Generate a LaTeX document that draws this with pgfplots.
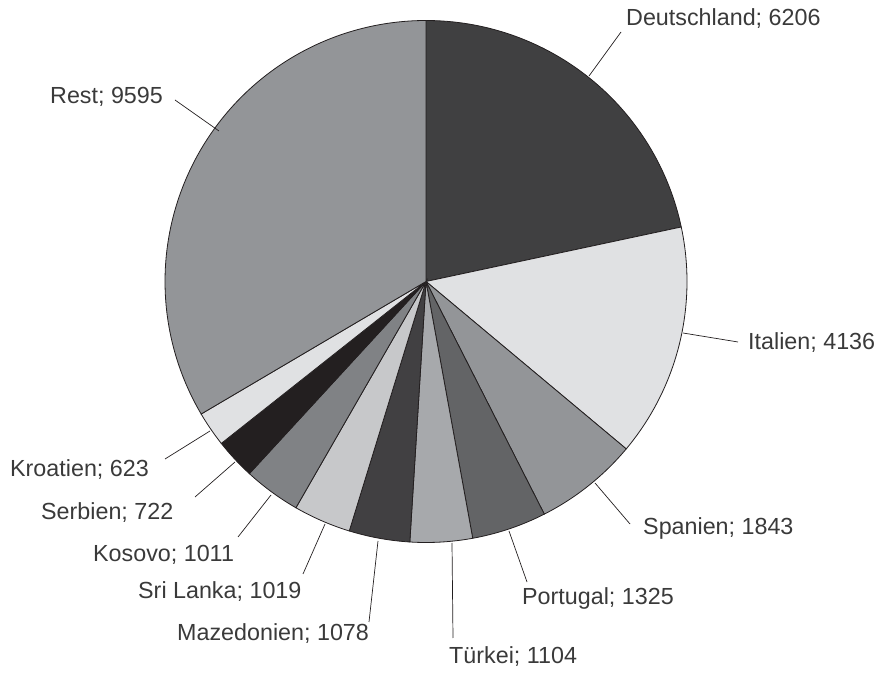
\documentclass[border=0pt]{standalone}
\usepackage{pgfplots}
\pgfplotsset{compat=1.18}
\usepackage{fontspec}
\setmainfont{Liberation Sans}
\definecolor{cD}{HTML}{404041}
\definecolor{cI}{HTML}{E0E1E3}
\definecolor{cS}{HTML}{939598}
\definecolor{cP}{HTML}{636466}
\definecolor{cT}{HTML}{A7A9AC}
\definecolor{cM}{HTML}{414042}
\definecolor{cSL}{HTML}{C7C8CA}
\definecolor{cK}{HTML}{808285}
\definecolor{cSe}{HTML}{231F20}
\definecolor{cKr}{HTML}{E0E1E3}
\definecolor{cR}{HTML}{939598}
\definecolor{linec}{HTML}{231F20}
\definecolor{txt}{HTML}{3A3A3A}
\gdef\cum{0}
% total in hundreds: (6206+4136+1843+1325+1104+1078+1019+1011+722+623+9595)/100
\pgfmathsetmacro\total{6206/100+4136/100+1843/100+1325/100+1104/100+1078/100+1019/100+1011/100+722/100+623/100+9595/100}
\newcommand\pieslice[2]{%
  \pgfmathsetmacro\angA{90-(\cum/\total)*360}%
  \pgfmathsetmacro\cumB{\cum+#1/100}%
  \pgfmathsetmacro\angB{90-(\cumB/\total)*360}%
  \xdef\cum{\cumB}%
  \edef\temp{\noexpand\addplot[fill=#2, draw=linec, line width=0.8bp, domain=\angB:\angA, samples=120] ({426+261*cos(x)},{391.5+261*sin(x)}) -- (axis cs:426,391.5) -- cycle;}%
  \temp
}
\newcommand\lbl[3]{\node[anchor=base west, inner sep=0pt, text=txt, font=\fontsize{23.3bp}{28bp}\selectfont] at (axis cs:#1,673-#2) {#3};}
\newcommand\lead[4]{\draw[linec, line width=0.7bp] (axis cs:#1,673-#2) -- (axis cs:#3,673-#4);}
\begin{document}
\begin{tikzpicture}
\begin{axis}[
  width=883bp, height=673bp, scale only axis,
  xmin=0, xmax=883, ymin=0, ymax=673,
  hide axis, clip=false,
]
\path (axis cs:0,0) rectangle (axis cs:883,673);
% values (clockwise from top)
\pieslice{6206}{cD}   % Deutschland
\pieslice{4136}{cI}   % Italien
\pieslice{1843}{cS}   % Spanien
\pieslice{1325}{cP}   % Portugal
\pieslice{1104}{cT}   % Tuerkei
\pieslice{1078}{cM}   % Mazedonien
\pieslice{1019}{cSL}  % Sri Lanka
\pieslice{1011}{cK}   % Kosovo
\pieslice{722}{cSe}   % Serbien
\pieslice{623}{cKr}   % Kroatien
\pieslice{9595}{cR}   % Rest
% leader lines
\lead{589}{76}{621}{32}
\lead{683}{333}{738}{342}
\lead{595}{483}{630}{524}
\lead{509}{531}{527}{582}
\lead{452}{543}{453}{638}
\lead{378}{541}{369}{622}
\lead{325}{524}{303}{574}
\lead{271}{495}{238}{537}
\lead{235}{462}{195}{497}
\lead{210}{431}{165}{459}
\lead{219}{131}{175}{100}
% labels
\lbl{626}{26}{Deutschland; 6206}
\lbl{748}{350}{Italien; 4136}
\lbl{643}{535}{Spanien; 1843}
\lbl{522}{605}{Portugal; 1325}
\lbl{449}{663}{Türkei; 1104}
\lbl{177}{641}{Mazedonien; 1078}
\lbl{138}{599}{Sri Lanka; 1019}
\lbl{93}{562}{Kosovo; 1011}
\lbl{41}{520}{Serbien; 722}
\lbl{10}{477}{Kroatien; 623}
\lbl{50}{104}{Rest; 9595}
\end{axis}
\end{tikzpicture}
\end{document}
